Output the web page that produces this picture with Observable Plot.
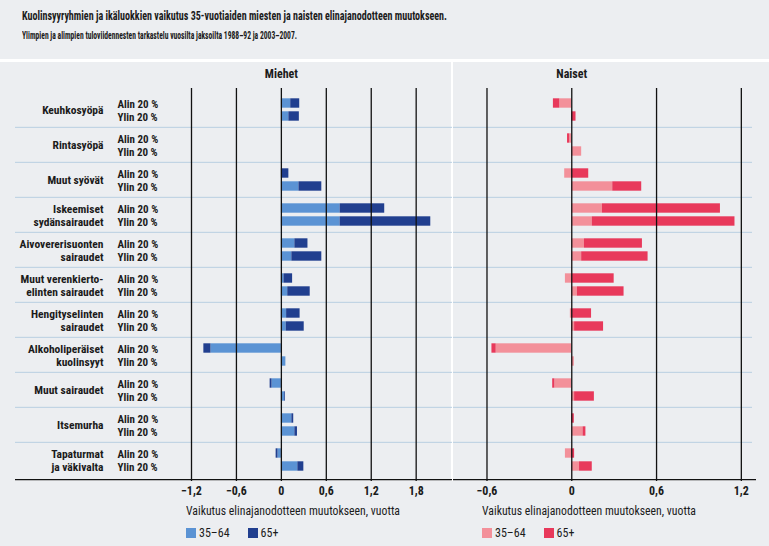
<!DOCTYPE html>
<html lang="fi"><head><meta charset="utf-8">
<script src="https://cdn.jsdelivr.net/npm/d3@7"></script>
<script src="https://cdn.jsdelivr.net/npm/@observablehq/plot@0.6"></script>
<style>
html,body{margin:0;padding:0;background:#fff;}
#wrap{position:relative;width:769px;height:546px;overflow:hidden;font-family:"Roboto Condensed","Open Sans Condensed",sans-serif;color:#1b1b1b;}
.bg{position:absolute;background:#eceef1;}
.fit{position:absolute;white-space:nowrap;transform-origin:0 50%;line-height:1;}
#title{left:22px;top:10px;font-size:12px;font-weight:bold;}
#subtitle{left:22px;top:31px;font-size:10px;font-weight:bold;}
.abs{position:absolute;}
.xlabel{top:505px;font-size:12.5px;font-weight:normal;}
.leg{position:absolute;top:516px;}
.lg-swatches{font-family:"Roboto Condensed","Open Sans Condensed",sans-serif !important;font-size:12px !important;font-weight:normal;color:#1b1b1b;margin:0 !important;}
.lg-swatch > svg{margin-right:3px !important;}
.lg-swatches-wrap .lg-swatch{margin-right:18px !important;}
</style>
</head><body>
<div id="wrap">
  <div class="bg" style="left:0;top:0;width:769px;height:59px;"></div>
  <div class="bg" style="left:0;top:62px;width:769px;height:484px;"></div>
  <div style="position:absolute;left:451px;top:62px;width:2px;height:419px;background:#fff;"></div>
  <div id="title" class="fit" data-w="425"></div>
  <div id="subtitle" class="fit" data-w="275"></div>
  <div id="men" class="abs" style="left:0;top:62px;"></div>
  <div id="women" class="abs" style="left:453px;top:62px;"></div>
  <div id="menLabel" class="fit xlabel" style="left:186px;" data-w="214"></div>
  <div id="womenLabel" class="fit xlabel" style="left:482px;" data-w="214"></div>
  <div id="menLegend" class="leg" style="left:186px;"></div>
  <div id="womenLegend" class="leg" style="left:482px;"></div>
</div>
<script>
const titleText = "Kuolinsyyryhmien ja ikäluokkien vaikutus 35-vuotiaiden miesten ja naisten elinajanodotteen muutokseen.";
const subtitleText = "Ylimpien ja alimpien tuloviidennesten tarkastelu vuosilta jaksoilta 1988–92 ja 2003–2007.";
const axisLabel = "Vaikutus elinajanodotteen muutokseen, vuotta";
const panelTitles = ["Miehet", "Naiset"];

const categories = [
  "Keuhkosyöpä",
  "Rintasyöpä",
  "Muut syövät",
  "Iskeemiset\nsydänsairaudet",
  "Aivovererisuonten\nsairaudet",
  "Muut verenkierto-\nelinten sairaudet",
  "Hengityselinten\nsairaudet",
  "Alkoholiperäiset\nkuolinsyyt",
  "Muut sairaudet",
  "Itsemurha",
  "Tapaturmat\nja väkivalta"
];
const groups = ["Alin 20 %", "Ylin 20 %"];
const ages = ["35–64", "65+"];

// Men (Miehet)
const menYoungAlin = [0.125, 0, 0, 0.785, 0.18, 0.035, 0.07, -0.94, -0.125, 0.14, -0.045];
const menOldAlin   = [0.12, 0, 0.10, 0.595, 0.175, 0.115, 0.18, -0.095, -0.025, 0.025, -0.025];
const menYoungYlin = [0.10, 0, 0.235, 0.785, 0.14, 0.085, 0.065, 0.06, 0.045, 0.18, 0.22];
const menOldYlin   = [0.14, 0, 0.305, 1.21, 0.40, 0.30, 0.24, 0, 0.01, 0.035, 0.08];

// Women (Naiset)
const womenYoungAlin = [-0.085, -0.015, -0.05, 0.217, 0.09, -0.045, -0.01, -0.535, -0.12, 0, -0.045];
const womenOldAlin   = [-0.045, -0.015, 0.12, 0.835, 0.41, 0.30, 0.14, -0.03, -0.015, 0.018, 0.02];
const womenYoungYlin = [0, 0.07, 0.29, 0.145, 0.07, 0.04, 0.02, 0.018, 0.02, 0.08, 0.055];
const womenOldYlin   = [0.03, 0, 0.205, 1.01, 0.47, 0.33, 0.205, 0, 0.14, 0.02, 0.09];

const menTicks = [-1.2, -0.6, 0, 0.6, 1.2, 1.8];
const menTickLabels = ["−1,2", "−0,6", "0", "0,6", "1,2", "1,8"];
const womenTicks = [-0.6, 0, 0.6, 1.2];
const womenTickLabels = ["−0,6", "0", "0,6", "1,2"];

const menColors = ["#5b93d4", "#213f8f"];
const womenColors = ["#f3909a", "#e8395b"];

const FONT = '"Roboto Condensed","Open Sans Condensed",sans-serif';
const INK = "#1b1b1b";
const SEP = "#b9cfe1";

function rows(youngA, oldA, youngY, oldY) {
  const out = [];
  categories.forEach((c, i) => {
    out.push({cat: c, grp: groups[0], age: ages[0], v: youngA[i]});
    out.push({cat: c, grp: groups[0], age: ages[1], v: oldA[i]});
    out.push({cat: c, grp: groups[1], age: ages[0], v: youngY[i]});
    out.push({cat: c, grp: groups[1], age: ages[1], v: oldY[i]});
  });
  return out;
}

const H = 438, MT = 28.5, MB = 21;
const step = (H - MT - MB) / categories.length;
const barH = 9.7, pairGap = 13;
const insetNear = step / 2 - pairGap / 2 - barH / 2;
const insetFar = step - insetNear - barH;

function panel({data, ticks, tickLabels, colors, domain, width, marginLeft, marginRight, title, labels, sepLeft, axisRight}) {
  const fmt = d => tickLabels[ticks.indexOf(d)];
  const marks = [
    Plot.ruleY(categories.slice(1), {y: d => d, dy: -step / 2, stroke: SEP, strokeWidth: 1, insetLeft: sepLeft}),
    Plot.barX(data.filter(d => d.grp === groups[0]), Plot.stackX({x: "v", y: "cat", fill: "age", insetTop: insetNear, insetBottom: insetFar})),
    Plot.barX(data.filter(d => d.grp === groups[1]), Plot.stackX({x: "v", y: "cat", fill: "age", insetTop: insetFar, insetBottom: insetNear})),
    Plot.ruleX(ticks, {stroke: "#111", strokeWidth: 1.3, insetTop: -2.5, insetBottom: -2}),
    Plot.ruleY([categories[categories.length - 1]], {y: d => d, dy: step / 2 + 2, stroke: "#111", strokeWidth: 1.3, insetLeft: sepLeft, insetRight: axisRight}),
    Plot.axisX({ticks, tickFormat: fmt, tickSize: 0, tickPadding: 7, label: null, fontSize: 12, fontWeight: "bold", fill: INK}),
    Plot.text([title], {x: 0, frameAnchor: "top", dy: -22, fontSize: 12, fontWeight: "bold", fill: INK})
  ];
  if (labels) {
    marks.push(Plot.axisY({tickSize: 0, tickFormat: d => d, dx: -79, textAnchor: "end", fontSize: 11.5, fontWeight: "bold", lineHeight: 13 / 11.5, label: null, fill: INK}));
    marks.push(Plot.axisY({tickSize: 0, tickFormat: () => groups.join("\n"), dx: -65, textAnchor: "start", fontSize: 11, fontWeight: "bold", lineHeight: 13 / 11, label: null, fill: INK}));
  }
  return Plot.plot({
    width, height: H,
    marginTop: MT, marginBottom: MB, marginLeft, marginRight,
    style: {background: "transparent", fontFamily: FONT, color: INK, overflow: "visible"},
    x: {domain, axis: null, label: null},
    y: {domain: categories, type: "band", padding: 0, axis: null, label: null},
    color: {domain: ages, range: colors},
    marks
  });
}

document.getElementById("title").textContent = titleText;
document.getElementById("subtitle").textContent = subtitleText;
document.getElementById("menLabel").textContent = axisLabel;
document.getElementById("womenLabel").textContent = axisLabel;

document.getElementById("men").append(panel({
  data: rows(menYoungAlin, menOldAlin, menYoungYlin, menOldYlin),
  ticks: menTicks, tickLabels: menTickLabels, colors: menColors,
  domain: [-1.2, 2.285], width: 452, marginLeft: 191, marginRight: 0,
  title: panelTitles[0], labels: true, sepLeft: -176, axisRight: 0
}));
document.getElementById("women").append(panel({
  data: rows(womenYoungAlin, womenOldAlin, womenYoungYlin, womenOldYlin),
  ticks: womenTicks, tickLabels: womenTickLabels, colors: womenColors,
  domain: [-0.837, 1.279], width: 316, marginLeft: 0, marginRight: 17,
  title: panelTitles[1], labels: false, sepLeft: 0, axisRight: -4
}));

document.getElementById("menLegend").append(Plot.legend({color: {domain: ages, range: menColors}, swatchSize: 10, className: "lg"}));
document.getElementById("womenLegend").append(Plot.legend({color: {domain: ages, range: womenColors}, swatchSize: 10, className: "lg"}));

// squeeze header/axis-label text horizontally to the reference widths
document.querySelectorAll(".fit").forEach(el => {
  const target = +el.dataset.w;
  const w = el.getBoundingClientRect().width;
  if (w > 0) el.style.transform = `scaleX(${target / w})`;
});
</script>
</body></html>
